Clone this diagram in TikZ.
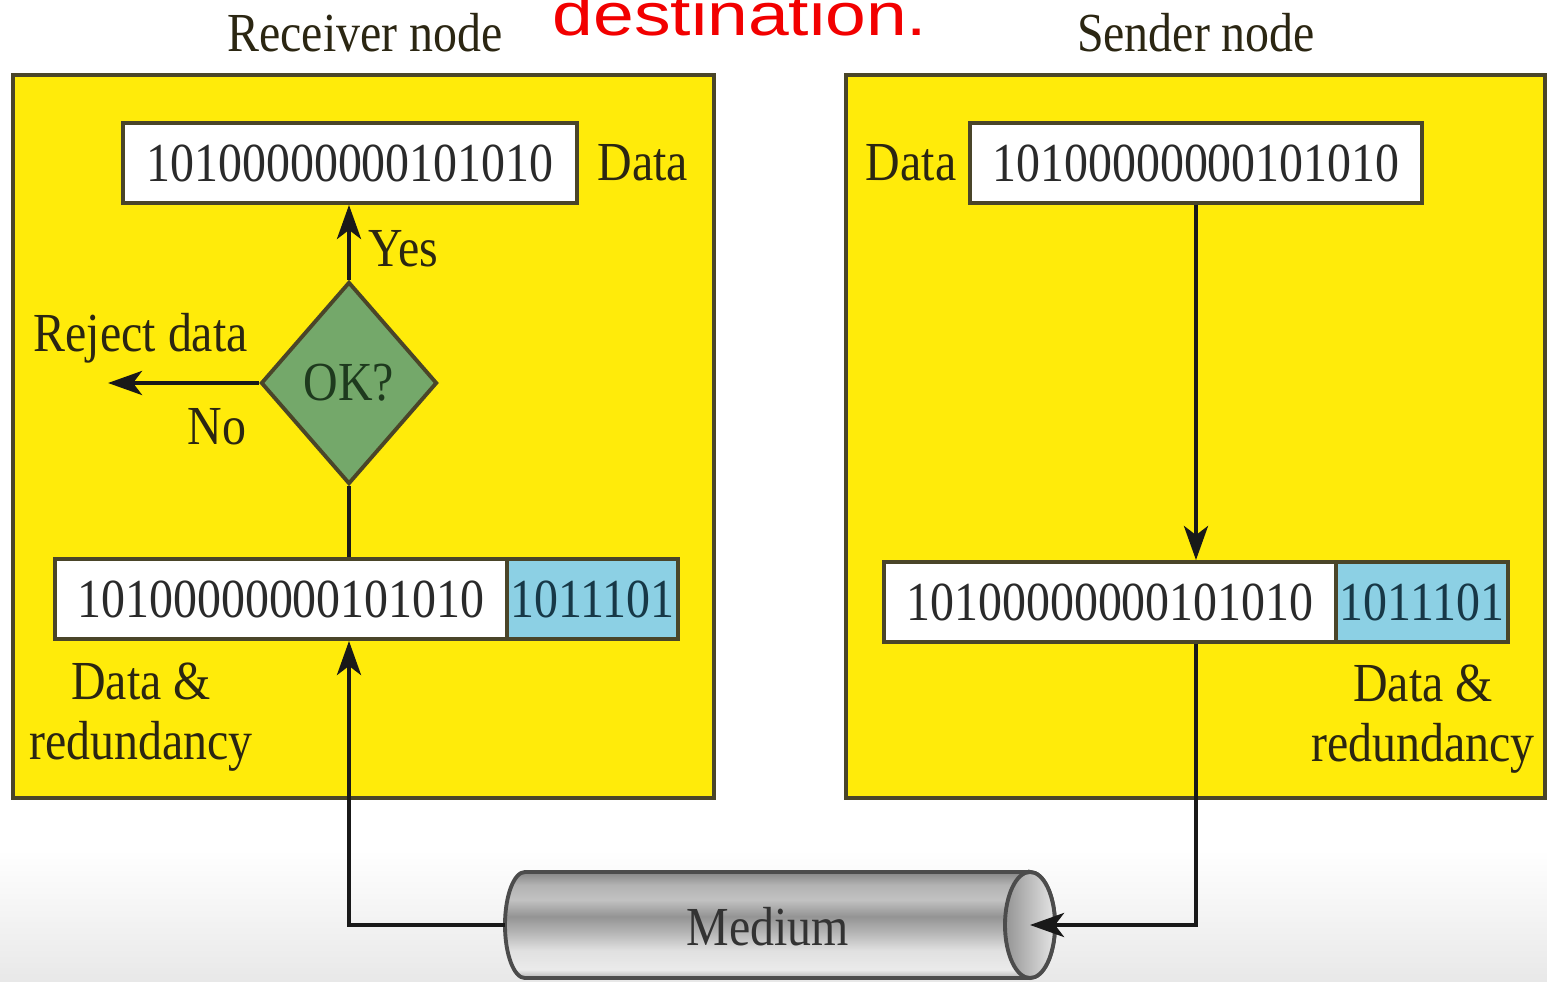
\documentclass[tikz,border=0pt]{standalone}
\usepackage{fontspec}
\setmainfont{Liberation Serif}
\newfontfamily\labelfont[FakeStretch=0.87]{Liberation Serif}
\newfontfamily\headfont[FakeStretch=1.22]{Liberation Sans}
\usetikzlibrary{arrows.meta,shapes.geometric}

\definecolor{panelfill}{HTML}{FFEB0A}
\definecolor{panelrule}{HTML}{4A4529}
\definecolor{ink}{HTML}{2B2612}
\definecolor{bitink}{HTML}{2A2A2A}
\definecolor{crcfill}{HTML}{8CD0E4}
\definecolor{crcink}{HTML}{173847}
\definecolor{okfill}{HTML}{74A86A}
\definecolor{okink}{HTML}{1E3A1E}
\definecolor{alertred}{HTML}{F20000}

% metallic look of the transmission pipe (bottom to top)
\pgfdeclareverticalshading{pipeshade}{100bp}{
  color(0bp)=(black!30);
  color(25bp)=(black!30);
  color(29bp)=(black!8);
  color(38bp)=(black!12);
  color(46bp)=(black!28);
  color(54bp)=(black!42);
  color(62bp)=(black!24);
  color(69bp)=(black!30);
  color(75bp)=(black!48);
  color(100bp)=(black!48)}

\tikzset{
  txt/.style={font=\labelfont\fontsize{15.65}{17.07}\selectfont, text=ink, inner sep=0pt},
  bitbox/.style={draw=panelrule, line width=1.1pt, fill=white, minimum height=0.8cm,
    inner sep=0pt, font=\labelfont\fontsize{15.65}{17.07}\selectfont, text=bitink},
  crcbox/.style={bitbox, fill=crcfill, text=crcink},
  decision/.style={diamond, draw=panelrule, line width=1.1pt, fill=okfill, text=okink,
    minimum width=1.76cm, minimum height=2.02cm, inner sep=0pt, aspect=0.87,
    font=\labelfont\fontsize{15.65}{17.07}\selectfont},
  flow/.style={draw=black!90, line width=1.2pt},
  arrow/.style={flow, -{Stealth[length=0.34cm,width=0.24cm,inset=0.09cm]}},
  panel/.style={fill=panelfill, draw=panelrule, line width=1.1pt},
}

\begin{document}
\begin{tikzpicture}[x=0.01cm, y=-0.01cm]
\useasboundingbox (0,0) rectangle (1547,982);
\fill[white] (0,0) rectangle (1547,982);
\shade[top color=white, bottom color=black!9] (0,850) rectangle (1547,982);

% heading, cut by the top edge
\begin{scope}
  \clip (0,0) rectangle (1547,982);
  \node[font=\headfont\fontsize{17.07}{20}\selectfont, text=alertred, anchor=base, inner sep=0pt]
    (head) at (740,36) {destination.};
\end{scope}

% node titles
\node[txt, anchor=base] (rxtitle) at (365,52) {Receiver node};
\node[txt, anchor=base] (txtitle) at (1196,52) {Sender node};

% node frames
\draw[panel] (13,75) rectangle (714,798);
\draw[panel] (846,75) rectangle (1545,798);

% ---------- receiver ----------
\node[bitbox, minimum width=4.54cm] (rxtop) at (350,163) {10100000000101010};
\node[txt, anchor=west] (rxtoplbl) at (597,163) {Data};
\node[decision] (ok) at (349,383) {OK?};
\node[txt, anchor=west] (yes) at (368,249) {Yes};
\node[txt, anchor=base west] (rejectlbl) at (33,352) {Reject data};
\node[txt, anchor=base west] (no) at (187,445) {No};
\coordinate (reject) at (108,383);
\node[bitbox, minimum width=4.52cm] (rxdata) at (281,599) {10100000000101010};
\node[crcbox, minimum width=1.71cm] (rxcrc) at (592.5,599) {1011101};
\node[txt, align=center] (rxlbl) at (141,717) {Data \&\\redundancy};

% ---------- sender ----------
\node[bitbox, minimum width=4.52cm] (txtop) at (1196,163) {10100000000101010};
\node[txt, anchor=east] (txtoplbl) at (957,163) {Data};
\node[bitbox, minimum width=4.52cm] (txdata) at (1110,602) {10100000000101010};
\node[crcbox, minimum width=1.72cm] (txcrc) at (1422,602) {1011101};
\node[txt, align=center] (txlbl) at (1423,719) {Data \&\\redundancy};

% ---------- medium ----------
\shade[shading=pipeshade, draw=black!70, line width=1.1pt]
  (1030,872) -- (525,872)
  arc[start angle=90, end angle=270, x radius=0.2cm, y radius=0.53cm]
  -- (1030,978)
  arc[start angle=-90, end angle=90, x radius=0.25cm, y radius=0.53cm] -- cycle;
\shade[left color=black!42, right color=black!10, draw=black!70, line width=1.1pt]
  (1030,925) ellipse[x radius=0.25cm, y radius=0.53cm];
\node[txt, text=black!80] (medium) at (768,927) {Medium};
\coordinate (pipeL) at (505,925);
\coordinate (pipeR) at (1030,925);

% ---------- connectors ----------
\draw[arrow] (ok.north) -- (ok.north |- rxtop.south);
\draw[arrow] (ok.west) -- (reject);
\draw[flow] (ok.south) -- (ok.south |- rxdata.north);
\draw[arrow] (pipeL) -| (ok.south |- rxdata.south);
\draw[arrow] (txtop.south) -- (txtop.south |- txdata.north);
\draw[arrow] (txtop.south |- txdata.south) |- (pipeR);
\end{tikzpicture}
\end{document}
